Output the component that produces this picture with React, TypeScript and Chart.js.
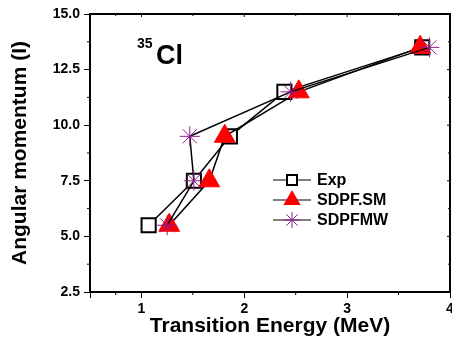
import React, { useEffect, useRef } from "react";
import { Chart, registerables } from "chart.js";

Chart.register(...registerables);

const spinLevels = [5.5, 7.5, 9.5, 11.5, 13.5];
const expEnergy = [1.07, 1.51, 1.86, 2.39, 3.73];
const sdpfsmEnergy = [1.27, 1.66, 1.81, 2.53, 3.71];
const sdpfmwEnergy = [1.25, 1.51, 1.47, 2.45, 3.8];
const seriesNames = ["Exp", "SDPF.SM", "SDPFMW"];
const xTitle = "Transition Energy (MeV)";
const yTitle = "Angular momentum (I)";

const FONT = "'Liberation Sans', Arial, sans-serif";
const PURPLE = "#8E1E8E";

const toPoints = (xs: number[]) => xs.map((x, i) => ({ x, y: spinLevels[i] }));

const zeroPad = () => ({ left: 0, top: 0, right: 0, bottom: 0 });

const framePlugin = {
  id: "frame",
  afterDraw(chart: any) {
    const { ctx, chartArea: a, scales } = chart;
    ctx.save();
    ctx.strokeStyle = "#000";
    ctx.lineWidth = 2;
    ctx.strokeRect(a.left, a.top, a.right - a.left, a.bottom - a.top);
    ctx.lineWidth = 1;
    const xs = scales.x.ticks.map((t: any) => t.value);
    const ys = scales.y.ticks.map((t: any) => t.value);
    ctx.beginPath();
    for (let i = 0; i < xs.length; i++) {
      const px = scales.x.getPixelForValue(xs[i]);
      ctx.moveTo(px, a.top);
      ctx.lineTo(px, a.top + 3);
      if (i < xs.length - 1) {
        const m = scales.x.getPixelForValue((xs[i] + xs[i + 1]) / 2);
        ctx.moveTo(m, a.bottom);
        ctx.lineTo(m, a.bottom + 3);
        ctx.moveTo(m, a.top);
        ctx.lineTo(m, a.top + 2);
      }
    }
    for (let i = 0; i < ys.length; i++) {
      const py = scales.y.getPixelForValue(ys[i]);
      ctx.moveTo(a.right, py);
      ctx.lineTo(a.right - 3, py);
      if (i < ys.length - 1) {
        const m = scales.y.getPixelForValue((ys[i] + ys[i + 1]) / 2);
        ctx.moveTo(a.left, m);
        ctx.lineTo(a.left - 3, m);
        ctx.moveTo(a.right, m);
        ctx.lineTo(a.right - 2, m);
      }
    }
    ctx.stroke();

    ctx.fillStyle = "#000";
    ctx.textBaseline = "alphabetic";
    ctx.textAlign = "left";
    ctx.font = `bold 14px ${FONT}`;
    ctx.fillText("35", 137, 48);
    ctx.font = `bold 27px ${FONT}`;
    ctx.fillText("Cl", 156, 64);

    const rows = [180, 200, 220];
    const lx0 = 273, lx1 = 311, mx = 292;
    rows.forEach((ry, i) => {
      ctx.strokeStyle = "#000";
      ctx.lineWidth = 1;
      ctx.beginPath();
      ctx.moveTo(lx0, ry);
      ctx.lineTo(lx1, ry);
      ctx.stroke();
      if (i === 0) {
        ctx.fillStyle = "#fff";
        ctx.fillRect(mx - 5, ry - 5, 10, 10);
        ctx.lineWidth = 2;
        ctx.strokeRect(mx - 5, ry - 5, 10, 10);
      } else if (i === 1) {
        const r = 10;
        ctx.fillStyle = "red";
        ctx.beginPath();
        ctx.moveTo(mx, ry - r);
        ctx.lineTo(mx + r * 0.866, ry + r / 2);
        ctx.lineTo(mx - r * 0.866, ry + r / 2);
        ctx.closePath();
        ctx.fill();
      } else {
        const r = 8;
        ctx.strokeStyle = PURPLE;
        ctx.lineWidth = 1;
        ctx.beginPath();
        for (let k = 0; k < 4; k++) {
          const ang = (k * Math.PI) / 4;
          ctx.moveTo(mx - r * Math.cos(ang), ry - r * Math.sin(ang));
          ctx.lineTo(mx + r * Math.cos(ang), ry + r * Math.sin(ang));
        }
        ctx.stroke();
      }
      ctx.fillStyle = "#000";
      ctx.font = `bold 16px ${FONT}`;
      ctx.textBaseline = "middle";
      ctx.fillText(seriesNames[i], 317, ry + 1);
    });
    ctx.restore();
  },
};

export default function App() {
  const ref = useRef<HTMLCanvasElement>(null);
  useEffect(() => {
    document.body.style.margin = "0";
    const chart = new Chart(ref.current!, {
      type: "scatter",
      data: {
        datasets: [
          {
            label: seriesNames[0],
            data: toPoints(expEnergy),
            showLine: true,
            borderColor: "#000",
            borderWidth: 1.5,
            pointStyle: "rect",
            pointRadius: 10,
            pointBackgroundColor: "#fff",
            pointBorderColor: "#000",
            pointBorderWidth: 2,
            order: 3,
          },
          {
            label: seriesNames[1],
            data: toPoints(sdpfsmEnergy),
            showLine: true,
            borderColor: "#000",
            borderWidth: 1.5,
            pointStyle: "triangle",
            pointRadius: 12,
            pointBackgroundColor: "red",
            pointBorderColor: "red",
            pointBorderWidth: 1,
            order: 2,
          },
          {
            label: seriesNames[2],
            data: toPoints(sdpfmwEnergy),
            showLine: true,
            borderColor: "#000",
            borderWidth: 1.5,
            pointStyle: "star",
            pointRadius: 10,
            pointBackgroundColor: PURPLE,
            pointBorderColor: PURPLE,
            pointBorderWidth: 1,
            order: 1,
          },
        ],
      },
      options: {
        responsive: false,
        animation: false,
        layout: { autoPadding: false, padding: { top: 14, right: 2, left: 0, bottom: 0 } },
        plugins: { legend: { display: false }, tooltip: { enabled: false } },
        scales: {
          x: {
            type: "linear",
            min: 0.5,
            max: 4,
            afterFit: (s: any) => {
              s.height = 53;
              s.paddingLeft = 0;
              s.paddingRight = 0;
              s.getPadding = zeroPad;
            },
            ticks: {
              stepSize: 1,
              color: "#000",
              padding: 3,
              maxRotation: 0,
              font: { family: FONT, size: 14, weight: "bold" },
              callback: (v: any) => (v === 0.5 ? "" : String(v)),
            },
            grid: { drawOnChartArea: false, tickLength: 6, color: "#000", tickWidth: 1 },
            border: { color: "#000", width: 2 },
            title: {
              display: true,
              text: xTitle,
              color: "#000",
              font: { family: FONT, size: 21, weight: "bold" },
              padding: { top: 0, bottom: 6 },
            },
          },
          y: {
            type: "linear",
            min: 2.5,
            max: 15,
            afterFit: (s: any) => {
              s.width = 90;
              s.paddingTop = 0;
              s.paddingBottom = 0;
              s.getPadding = zeroPad;
            },
            ticks: {
              stepSize: 2.5,
              color: "#000",
              padding: 4,
              font: { family: FONT, size: 14, weight: "bold" },
              callback: (v: any) => Number(v).toFixed(1),
            },
            grid: { drawOnChartArea: false, tickLength: 6, color: "#000", tickWidth: 1 },
            border: { color: "#000", width: 2 },
            title: {
              display: true,
              text: yTitle,
              color: "#000",
              font: { family: FONT, size: 21, weight: "bold" },
              padding: { top: 8, bottom: 0 },
            },
          },
        },
      },
      plugins: [framePlugin],
    });
    return () => chart.destroy();
  }, []);
  return <canvas ref={ref} width={452} height={345} style={{ display: "block" }} />;
}
